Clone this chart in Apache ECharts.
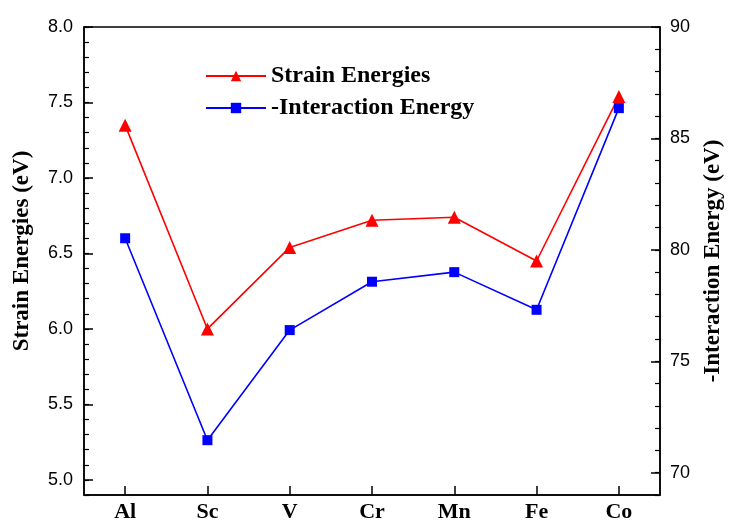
<!DOCTYPE html>
<html>
<head>
<meta charset="utf-8">
<script src="https://cdn.jsdelivr.net/npm/echarts@6/dist/echarts.min.js"></script>
<style>html,body{margin:0;padding:0;background:#fff}#c{width:733px;height:523px}</style>
</head>
<body>
<div id="c"></div>
<script>
const categories = ['Al', 'Sc', 'V', 'Cr', 'Mn', 'Fe', 'Co'];
const strainEnergies = [7.35, 6.00, 6.54, 6.72, 6.74, 6.45, 7.54];
const interactionEnergy = [80.52, 71.46, 76.40, 78.57, 79.00, 77.31, 86.36];
const leftTickLabels = [5.0, 5.5, 6.0, 6.5, 7.0, 7.5, 8.0];
const rightTickLabels = [70, 75, 80, 85, 90];
const leftMinorTicks = [4.9, 5.0, 5.1, 5.2, 5.3, 5.4, 5.5, 5.6, 5.7, 5.8, 5.9, 6.0, 6.1, 6.2, 6.3, 6.4, 6.5, 6.6, 6.7, 6.8, 6.9, 7.0, 7.1, 7.2, 7.3, 7.4, 7.5, 7.6, 7.7, 7.8, 7.9, 8.0];
const rightMinorTicks = [69, 70, 71, 72, 73, 74, 75, 76, 77, 78, 79, 80, 81, 82, 83, 84, 85, 86, 87, 88, 89, 90];

const serif = '"Liberation Serif", "Times New Roman", serif';
const sans = '"Liberation Sans", Arial, sans-serif';
const chart = echarts.init(document.getElementById('c'), null, {renderer: 'canvas'});
const axisLine = {show: true, lineStyle: {color: '#000', width: 1.5}};

chart.setOption({
  animation: false,
  backgroundColor: '#fff',
  grid: {left: 84, right: 68, top: 27, bottom: 26, show: true, borderColor: '#000', borderWidth: 1.5, containLabel: false},
  legend: {
    orient: 'vertical', left: 200, top: 59, itemWidth: 60, itemHeight: 13, itemGap: 8,
    textStyle: {fontFamily: serif, fontWeight: 'bold', fontSize: 24, color: '#000'},
    data: ['Strain Energies', '-Interaction Energy']
  },
  xAxis: {
    type: 'category', data: categories, boundaryGap: true,
    axisLine: axisLine,
    axisTick: {show: true, inside: true, alignWithLabel: true, length: 9, lineStyle: {color: '#000', width: 1.5}},
    axisLabel: {fontFamily: serif, fontWeight: 'bold', fontSize: 22, color: '#000', margin: 6},
    splitLine: {show: false}
  },
  yAxis: [
    {
      type: 'value', position: 'left', min: 4.9, max: 8.0,
      name: 'Strain Energies (eV)', nameLocation: 'middle', nameGap: 50, nameRotate: 90,
      nameTextStyle: {fontFamily: serif, fontWeight: 'bold', fontSize: 23, color: '#000', padding: [0, 0, 0, 20]},
      axisLine: axisLine,
      axisTick: {show: true, inside: true, length: 5, customValues: leftMinorTicks, lineStyle: {color: '#000', width: 1.2}},
      axisLabel: {customValues: leftTickLabels, formatter: v => Number(v).toFixed(1), fontFamily: sans, fontSize: 18, color: '#000', margin: 11},
      splitLine: {show: false}
    },
    {
      type: 'value', position: 'right', min: 69, max: 90,
      name: '-Interaction Energy (eV)', nameLocation: 'middle', nameGap: 42, nameRotate: 90,
      nameTextStyle: {fontFamily: serif, fontWeight: 'bold', fontSize: 23, color: '#000'},
      axisLine: axisLine,
      axisTick: {show: true, inside: true, length: 5, customValues: rightMinorTicks, lineStyle: {color: '#000', width: 1.2}},
      axisLabel: {customValues: rightTickLabels, fontFamily: sans, fontSize: 18, color: '#000', margin: 10},
      splitLine: {show: false}
    },
    {
      type: 'value', position: 'left', min: 4.9, max: 8.0,
      axisLine: {show: false},
      axisTick: {show: true, inside: true, length: 9, customValues: leftTickLabels, lineStyle: {color: '#000', width: 1.5}},
      axisLabel: {show: false}, splitLine: {show: false}
    },
    {
      type: 'value', position: 'right', min: 69, max: 90,
      axisLine: {show: false},
      axisTick: {show: true, inside: true, length: 9, customValues: rightTickLabels, lineStyle: {color: '#000', width: 1.5}},
      axisLabel: {show: false}, splitLine: {show: false}
    }
  ],
  series: [
    {
      name: 'Strain Energies', type: 'line', yAxisIndex: 0, data: strainEnergies,
      symbol: 'triangle', symbolSize: 13, color: '#ff0000',
      lineStyle: {color: '#ff0000', width: 1.6}, itemStyle: {color: '#ff0000'}
    },
    {
      name: '-Interaction Energy', type: 'line', yAxisIndex: 1, data: interactionEnergy,
      symbol: 'rect', symbolSize: 10, color: '#0000ff',
      lineStyle: {color: '#0000ff', width: 1.6}, itemStyle: {color: '#0000ff'}
    }
  ]
});
</script>
</body>
</html>
